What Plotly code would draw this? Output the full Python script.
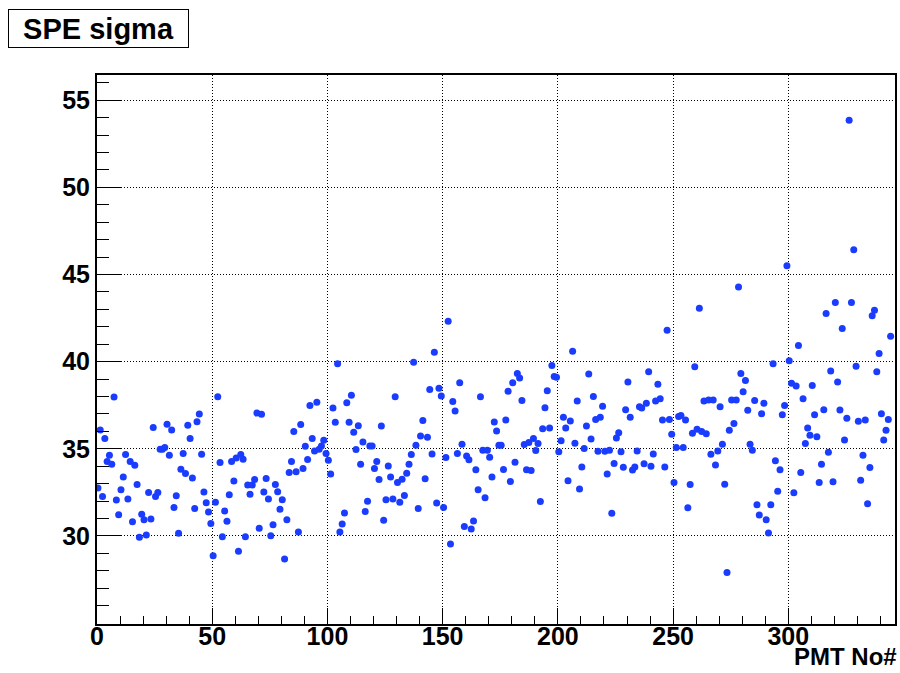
import plotly.graph_objects as go

# SPE sigma per PMT
spe_sigma = [
    32.76, 36.08, 32.27, 35.59, 34.27, 34.63, 34.12, 37.97, 32.06, 31.22,
    32.65, 33.39, 34.67, 32.12, 34.27, 30.82, 34.06, 32.96, 29.93, 31.24,
    30.93, 30.06, 32.50, 30.97, 36.22, 32.27, 32.50, 34.98, 34.98, 35.07,
    36.41, 34.63, 36.08, 31.64, 32.31, 30.15, 33.83, 34.73, 33.59, 36.35,
    35.59, 33.32, 31.58, 36.56, 37.00, 34.69, 32.52, 31.91, 31.37, 30.72,
    28.86, 31.93, 37.99, 34.22, 29.96, 31.43, 30.84, 32.36, 34.27, 33.15,
    34.48, 29.12, 34.67, 34.40, 29.96, 32.93, 32.40, 32.93, 33.24, 37.05,
    30.44, 36.98, 32.52, 33.30, 32.12, 30.02, 30.65, 32.96, 32.54, 31.54,
    32.08, 28.68, 30.93, 33.64, 34.27, 35.99, 33.68, 30.23, 36.39, 33.87,
    35.15, 34.39, 37.49, 35.59, 34.88, 37.68, 34.98, 35.17, 35.49, 34.73,
    34.35, 33.56, 37.34, 36.52, 39.88, 30.23, 30.69, 31.32, 37.65, 36.52,
    38.07, 35.95, 34.96, 36.33, 34.12, 35.39, 31.41, 32.00, 35.17, 35.17,
    33.87, 34.27, 33.24, 36.31, 30.90, 32.08, 34.02, 33.39, 32.12, 37.99,
    33.07, 31.93, 33.26, 32.33, 33.60, 34.12, 34.67, 39.97, 35.21, 31.58,
    35.74, 36.62, 33.28, 35.66, 38.41, 34.71, 40.54, 31.89, 38.48, 38.03,
    31.64, 34.50, 42.32, 29.54, 37.72, 37.17, 34.73, 38.79, 35.26, 30.55,
    34.59, 34.37, 30.40, 30.86, 33.80, 32.65, 37.99, 34.92, 32.19, 34.92,
    34.52, 33.39, 36.54, 36.02, 35.21, 35.21, 33.82, 36.66, 38.31, 33.13,
    38.79, 34.23, 39.32, 39.06, 37.78, 35.25, 33.80, 35.36, 33.76, 35.59,
    34.90, 35.30, 31.98, 36.16, 37.36, 38.34, 36.20, 39.78, 39.15, 39.11,
    34.84, 35.47, 36.81, 36.20, 33.17, 36.60, 40.60, 35.32, 37.74, 32.69,
    33.96, 35.02, 36.31, 39.29, 35.57, 38.01, 36.69, 34.86, 36.81, 37.44,
    34.86, 33.56, 34.92, 31.30, 34.16, 35.62, 35.93, 34.84, 33.95, 37.25,
    38.83, 36.81, 33.78, 33.96, 34.88, 37.42, 37.34, 34.14, 37.61, 39.42,
    34.00, 34.71, 37.74, 38.71, 37.88, 36.66, 33.96, 41.80, 36.69, 35.84,
    33.07, 35.07, 36.85, 36.92, 35.07, 36.66, 31.62, 32.96, 35.89, 39.71,
    36.12, 43.06, 35.99, 37.74, 35.87, 37.80, 34.69, 37.80, 34.08, 34.88,
    37.42, 35.26, 32.97, 27.90, 36.06, 37.80, 36.45, 37.80, 44.29, 39.32,
    38.28, 38.92, 37.21, 35.26, 34.92, 37.78, 31.79, 31.20, 37.02, 37.61,
    30.93, 30.17, 31.79, 39.88, 34.31, 32.57, 33.80, 36.96, 37.49, 45.50,
    40.05, 38.77, 32.48, 38.60, 40.93, 33.64, 37.88, 35.30, 36.20, 35.78,
    38.64, 36.96, 35.70, 33.07, 34.12, 37.25, 42.76, 34.81, 39.46, 33.11,
    43.39, 38.83, 37.23, 41.90, 35.51, 36.75, 53.86, 43.39, 46.42, 39.74,
    36.58, 33.20, 34.63, 36.66, 31.85, 33.93, 42.64, 42.95, 39.42, 40.47,
    37.02, 35.51, 36.06, 36.68, 41.46,
]
pmt_no = list(range(len(spe_sigma)))
x_ticks = [0, 50, 100, 150, 200, 250, 300]
y_ticks = [30, 35, 40, 45, 50, 55]

FONT = "Liberation Sans, Arial, Helvetica, sans-serif"

fig = go.Figure()
fig.add_trace(go.Scatter(
    x=[p + 0.4 for p in pmt_no], y=spe_sigma, mode="markers",
    marker=dict(color="#1a3cff", size=7, line=dict(width=0)),
    showlegend=False, cliponaxis=True,
))

axis_common = dict(
    showline=True, mirror=True, linecolor="black", linewidth=2,
    ticks="inside", tickcolor="black", tickwidth=1,
    showgrid=True, gridcolor="black", gridwidth=1, griddash="1px,2px",
    zeroline=False,
    tickfont=dict(family=FONT, size=25, color="black", weight="bold"),
)

fig.update_layout(
    width=900, height=673,
    margin=dict(l=97, r=3, t=75, b=49),
    paper_bgcolor="white", plot_bgcolor="white",
    xaxis=dict(range=[0, 346.3], tickmode="array", tickvals=x_ticks,
               ticklen=16, ticklabelstandoff=-11,
               minor=dict(ticks="inside", dtick=10, tick0=0, ticklen=8,
                          tickcolor="black", tickwidth=1, showgrid=False),
               **axis_common),
    yaxis=dict(range=[24.95, 56.45], tickmode="array", tickvals=y_ticks,
               ticklen=24,
               minor=dict(ticks="inside", dtick=1, tick0=0, ticklen=12,
                          tickcolor="black", tickwidth=1, showgrid=False),
               **axis_common),
    annotations=[
        dict(text="<b>SPE sigma</b>", xref="paper", yref="paper",
             x=(8 - 97) / 800, y=(624 - 9) / 549, xanchor="left", yanchor="top",
             showarrow=False, font=dict(family=FONT, size=29, color="black"),
             bordercolor="black", borderwidth=1, bgcolor="white",
             width=177, height=35, align="center"),
        dict(text="<b>PMT No#</b>", xref="paper", yref="paper",
             x=1.0, y=(624 - 656) / 549, xanchor="right", yanchor="middle",
             xshift=3, borderpad=0,
             showarrow=False, font=dict(family=FONT, size=24, color="black")),
    ],
)

fig.write_html(
    "out.html",
    config={"displayModeBar": False},
    post_script="document.body.style.margin='0';document.body.style.overflow='hidden';",
)
